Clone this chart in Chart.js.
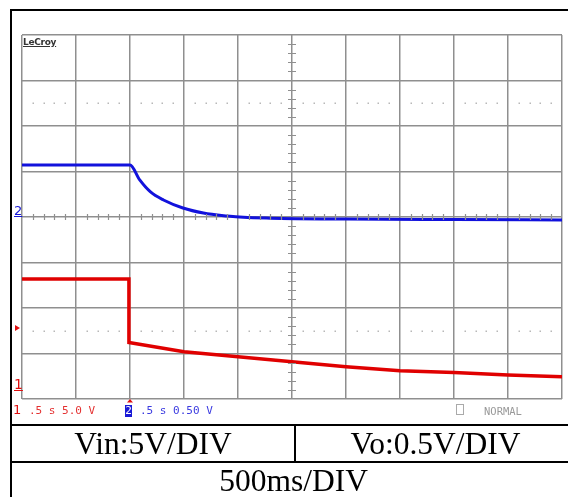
<!DOCTYPE html>
<html>
<head>
<meta charset="utf-8">
<script src="https://cdn.jsdelivr.net/npm/chart.js@4/dist/chart.umd.min.js"></script>
<style>
  body{margin:0;background:#fff;width:568px;height:497px;overflow:hidden;position:relative;font-family:"Liberation Serif","Times New Roman",serif}
  #scope{position:absolute;left:0;top:0}
  .abs{position:absolute;white-space:pre}
  .line{position:absolute;background:#000}
  .mono{font-family:"DejaVu Sans Mono",monospace;font-size:11px;line-height:12px}
  .cell{position:absolute;text-align:center;font-size:31.5px;line-height:36px;color:#000}
</style>
</head>
<body>
<canvas id="scope" width="568" height="420"></canvas>

<!-- frame and table -->
<div class="line" style="left:10px;top:9px;width:570px;height:2px"></div>
<div class="line" style="left:10px;top:9px;width:2px;height:490px"></div>
<div class="line" style="left:10px;top:424px;width:570px;height:2px"></div>
<div class="line" style="left:10px;top:461px;width:570px;height:2px"></div>
<div class="line" style="left:294px;top:424px;width:2px;height:38px"></div>

<div class="cell" style="left:12px;width:282px;top:426px">Vin:5V/DIV</div>
<div class="cell" style="left:296px;width:279px;top:426px">Vo:0.5V/DIV</div>
<div class="cell" style="left:12px;width:563px;top:463px">500ms/DIV</div>

<!-- scope screen texts -->
<div class="abs" style="left:23px;top:37px;font-family:'DejaVu Sans';font-weight:bold;font-size:9px;color:#333;text-decoration:underline;letter-spacing:-0.3px">LeCroy</div>
<div class="abs" style="left:14px;top:203px;font-family:'DejaVu Sans';font-size:13px;color:#1515d8;text-decoration:underline">2</div>
<div class="abs" style="left:14px;top:376px;font-family:'DejaVu Sans';font-size:14px;color:#e01010;text-decoration:underline">1</div>

<div class="abs" style="left:13px;top:403px;font-family:'DejaVu Sans';font-size:13px;line-height:14px;color:#e01010">1</div>
<div class="abs mono" style="left:29px;top:405px;color:#e43030">.5 s 5.0 V</div>
<div class="abs mono" style="left:125px;top:405px;width:7px;height:12px;background:#1a1ad6;color:#fff;text-align:center;line-height:12px">2</div>
<div class="abs mono" style="left:140px;top:405px;color:#3a3ae0">.5 s 0.50 V</div>
<div class="abs" style="left:456px;top:404px;width:6px;height:9px;border:1px solid #aaa"></div>
<div class="abs mono" style="left:484px;top:405px;color:#999;font-size:10.5px">NORMAL</div>

<script>
// time (s) at 0.5 s/div, left edge = 0
var timeVin = [0, 0.99, 0.99, 1.5, 2.0, 2.5, 3.0, 3.5, 4.0, 4.5, 5.0];
var vin     = [12.4, 12.4, 5.4, 4.4, 3.85, 3.3, 2.75, 2.3, 2.1, 1.85, 1.65];

var timeVo = [0, 1.0, 1.09, 1.19, 1.31, 1.49, 1.68, 1.9, 2.05, 2.3, 3.0, 4.0, 5.0];
var vo     = [0.571, 0.571, 0.407, 0.275, 0.187, 0.099, 0.044, 0.011, -0.004, -0.013, -0.022, -0.028, -0.033];

// screen ranges: ch1 5 V/div, ch2 0.5 V/div, 8 divs tall
var ch1Range = [-0.8, 39.2];
var ch2Range = [-2, 2];
var timeRange = [0, 5];

function pts(xs, ys){
  return xs.map(function(x,i){ return {x:x, y:ys[i]}; });
}

var screenMarks = {
  id: 'screenMarks',
  afterDraw: function(chart){
    var ctx = chart.ctx, xs = chart.scales.x, ys = chart.scales.y2, a = chart.chartArea;
    ctx.save();
    var cx = xs.getPixelForValue(2.5), cy = ys.getPixelForValue(0);
    // ticks on the centre lines
    ctx.strokeStyle = '#8f8f8f';
    ctx.lineWidth = 1.2;
    ctx.beginPath();
    for (var i = 1; i < 50; i++) {
      if (i % 5 === 0) continue;
      var px = Math.round(xs.getPixelForValue(i * 0.1)) + 0.5;
      ctx.moveTo(px, cy - 3); ctx.lineTo(px, cy + 3);
    }
    for (var j = 1; j < 40; j++) {
      if (j % 5 === 0) continue;
      var py = Math.round(ys.getPixelForValue(-2 + j * 0.1)) + 0.5;
      ctx.moveTo(cx - 4, py); ctx.lineTo(cx + 4, py);
    }
    ctx.stroke();
    // dotted rows
    ctx.fillStyle = '#b8b8b8';
    [1.25, -1.25].forEach(function(v){
      var py = Math.round(ys.getPixelForValue(v));
      for (var k = 1; k < 50; k++) {
        if (k % 5 === 0) continue;
        var px = Math.round(xs.getPixelForValue(k * 0.1));
        ctx.fillRect(px - 0.5, py - 0.5, 1.5, 1.5);
      }
    });
    // trigger markers
    ctx.fillStyle = '#e01010';
    var ty = chart.scales.y.getPixelForValue(7.0);
    ctx.beginPath();
    ctx.moveTo(15, ty - 3); ctx.lineTo(20, ty); ctx.lineTo(15, ty + 3); ctx.closePath();
    ctx.fill();
    var tx = xs.getPixelForValue(1.0);
    ctx.beginPath();
    ctx.moveTo(tx - 3, a.bottom + 3.5); ctx.lineTo(tx, a.bottom); ctx.lineTo(tx + 3, a.bottom + 3.5); ctx.closePath();
    ctx.fill();
    ctx.restore();
  }
};

new Chart(document.getElementById('scope'), {
  type: 'scatter',
  data: {
    datasets: [{
      label: 'Vo',
      data: pts(timeVo, vo),
      yAxisID: 'y2',
      showLine: true,
      borderColor: '#1212dc',
      borderWidth: 3,
      pointRadius: 0,
      cubicInterpolationMode: 'monotone'
    }, {
      label: 'Vin',
      data: pts(timeVin, vin),
      yAxisID: 'y',
      showLine: true,
      borderColor: '#e00000',
      borderWidth: 3.5,
      pointRadius: 0,
      tension: 0
    }]
  },
  options: {
    responsive: false,
    animation: false,
    events: [],
    layout: { padding: { left: 22, top: 35, right: 6, bottom: 21 } },
    plugins: { legend: { display: false }, tooltip: { enabled: false } },
    scales: {
      x: {
        type: 'linear', min: timeRange[0], max: timeRange[1],
        ticks: { display: false, stepSize: 0.5 },
        grid: { color: '#8f8f8f', lineWidth: 1.5, drawTicks: false },
        border: { display: false }
      },
      y2: {
        type: 'linear', position: 'left', min: ch2Range[0], max: ch2Range[1],
        ticks: { display: false, stepSize: 0.5 },
        grid: { color: '#8f8f8f', lineWidth: 1.5, drawTicks: false },
        border: { display: false }
      },
      y: {
        type: 'linear', display: false, min: ch1Range[0], max: ch1Range[1]
      }
    }
  },
  plugins: [screenMarks]
});
</script>
</body>
</html>
